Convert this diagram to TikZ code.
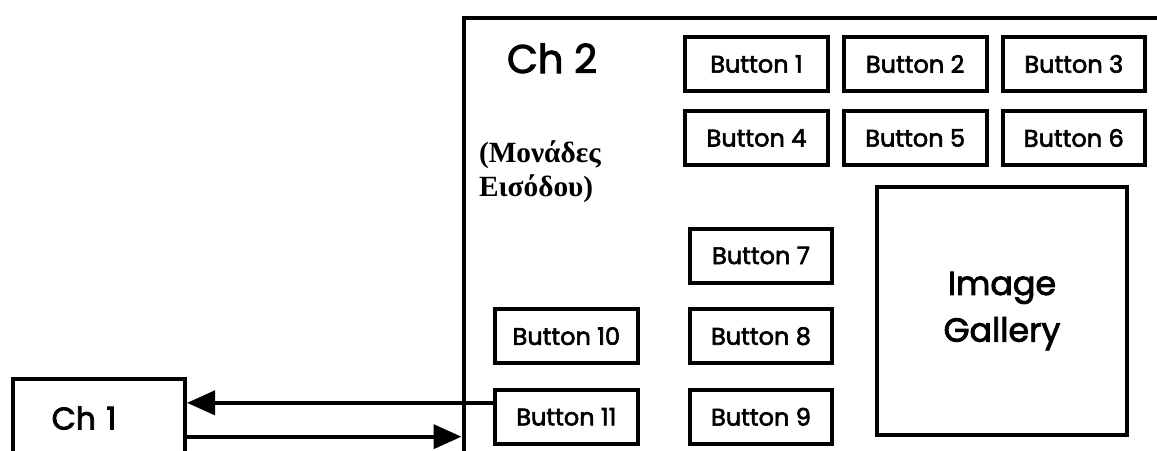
\documentclass[tikz,border=0pt]{standalone}
\usepackage{fontspec}
\setmainfont{Poppins}[FakeBold=2.5]
\newfontfamily\greekfont{Liberation Serif Bold}
\usetikzlibrary{positioning,arrows.meta}

\begin{document}
\begin{tikzpicture}[x=0.75pt, y=-0.75pt, line width=3pt, >={Triangle[length=21pt,width=18pt]},
  btn/.style={draw, rectangle, minimum width=107pt, minimum height=40.5pt, inner sep=0pt, font=\fontsize{18}{20}\selectfont},
  frame/.style={draw, rectangle, inner sep=0pt}]
  \useasboundingbox (0,0) rectangle (1157,450);

  % the two channels
  \node[frame, minimum width=553pt, minimum height=362pt, anchor=north west] (ch2) at (461.5,15.5) {};
  \node[frame, minimum width=129pt, minimum height=58.5pt, inner xsep=29pt, text width=71pt, align=left, font=\fontsize{23.5}{26}\selectfont] (ch1) at (99,418) {Ch 1};

  \node[anchor=base west, inner sep=0pt, font=\fontsize{30}{32}\selectfont] (title) at (505,73) {Ch 2};
  \node[anchor=west, inner sep=0pt, align=left, font=\greekfont\fontsize{22}{25.5}\selectfont] (inputs) at (477,172) {(Μονάδες\\Εισόδου)};

  % buttons
  \node[btn] (b1) at (756.5,64) {Button 1};
  \node[btn, right=9pt of b1] (b2) {Button 2};
  \node[btn, right=9pt of b2] (b3) {Button 3};
  \node[btn, below=12pt of b1] (b4) {Button 4};
  \node[btn, below=12pt of b2] (b5) {Button 5};
  \node[btn, below=12pt of b3] (b6) {Button 6};
  \node[btn] (b7) at (761,255.5) {Button 7};
  \node[btn, below=17pt of b7] (b8) {Button 8};
  \node[btn, below=17pt of b8] (b9) {Button 9};
  \node[btn, left=36pt of b8] (b10) {Button 10};
  \node[btn, below=17pt of b10] (b11) {Button 11};

  \node[frame, minimum width=187.5pt, minimum height=186pt, align=center, font=\fontsize{25}{35}\selectfont] (gallery) at (1002,311) {Image\\Gallery};

  \draw[->] ([yshift=10.5pt]b11.west) -- ([yshift=10.5pt]b11.west -| ch1.east);
  \draw[->] ([yshift=-14pt]ch1.east) -- ([yshift=-14pt]ch1.east -| ch2.west);
\end{tikzpicture}
\end{document}
